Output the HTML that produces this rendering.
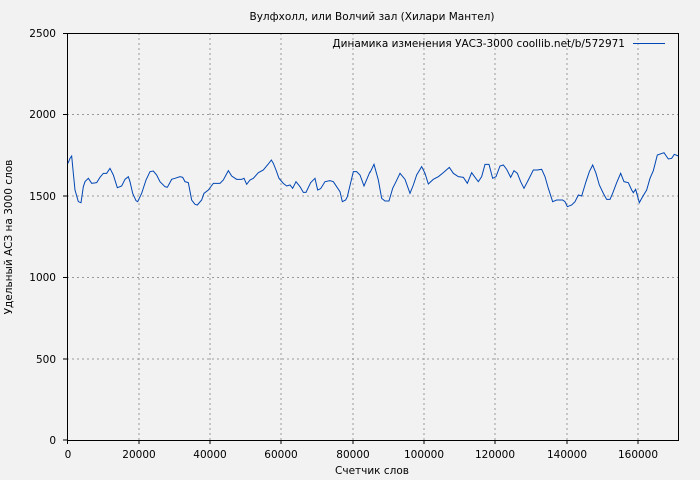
<!DOCTYPE html>
<html><head><meta charset="utf-8"><style>
body{margin:0;background:#f2f2f2;}
svg{display:block;font-family:"DejaVu Sans","Liberation Sans",sans-serif;}
</style></head><body>
<svg width="700" height="480" viewBox="0 0 700 480">
<rect width="700" height="480" fill="#f2f2f2"/>
<text x="372" y="20" font-size="10.5" text-anchor="middle" fill="#000">Вулфхолл, или Волчий зал (Хилари Мантел)</text>
<g stroke="#999" stroke-dasharray="2,3" stroke-width="1">
<line x1="139" y1="33" x2="139" y2="440"/><line x1="210" y1="33" x2="210" y2="440"/>
<line x1="281" y1="33" x2="281" y2="440"/><line x1="353" y1="33" x2="353" y2="440"/>
<line x1="424" y1="33" x2="424" y2="440"/><line x1="495" y1="33" x2="495" y2="440"/>
<line x1="567" y1="33" x2="567" y2="440"/><line x1="638" y1="33" x2="638" y2="440"/>
<line x1="67" y1="114.5" x2="678" y2="114.5"/><line x1="67" y1="196" x2="678" y2="196"/>
<line x1="67" y1="277.5" x2="678" y2="277.5"/><line x1="67" y1="359" x2="678" y2="359"/>
</g>
<rect x="67.5" y="33.5" width="611" height="407" fill="none" stroke="#000" stroke-width="1"/>
<g stroke="#000"><line x1="63" y1="33.5" x2="67" y2="33.5"/><line x1="63" y1="114.5" x2="67" y2="114.5"/><line x1="63" y1="196" x2="67" y2="196"/><line x1="63" y1="277.5" x2="67" y2="277.5"/><line x1="63" y1="359" x2="67" y2="359"/><line x1="63" y1="440" x2="67" y2="440"/>
<line x1="67.5" y1="440" x2="67.5" y2="444"/><line x1="139" y1="440" x2="139" y2="444"/><line x1="210" y1="440" x2="210" y2="444"/><line x1="281" y1="440" x2="281" y2="444"/><line x1="353" y1="440" x2="353" y2="444"/><line x1="424" y1="440" x2="424" y2="444"/><line x1="495" y1="440" x2="495" y2="444"/><line x1="567" y1="440" x2="567" y2="444"/><line x1="638" y1="440" x2="638" y2="444"/></g>
<g font-size="10.5" fill="#000" text-anchor="end">
<text x="56" y="37">2500</text><text x="56" y="118">2000</text><text x="56" y="200">1500</text><text x="56" y="281">1000</text><text x="56" y="363">500</text><text x="56" y="444">0</text></g>
<g font-size="10.5" fill="#000" text-anchor="middle">
<text x="68" y="458">0</text><text x="139" y="458">20000</text><text x="210" y="458">40000</text><text x="281" y="458">60000</text><text x="353" y="458">80000</text><text x="424" y="458">100000</text><text x="495" y="458">120000</text><text x="567" y="458">140000</text><text x="638" y="458">160000</text>
<text x="372" y="474">Счетчик слов</text></g>
<text transform="translate(12,237) rotate(-90)" font-size="10.5" text-anchor="middle">Удельный АСЗ на 3000 слов</text>
<text x="625" y="47" font-size="10.5" text-anchor="end">Динамика изменения УАСЗ-3000 coollib.net/b/572971</text>
<line x1="633" y1="43.5" x2="665" y2="43.5" stroke="#0046b4" stroke-width="1"/>
<g fill="none" stroke="#0046b4" stroke-width="1">
<polyline transform="translate(60,140) scale(0.33333)" vector-effect="non-scaling-stroke" points="24,70 30,55 35,48 40,100 45,150 55,185 63,188 70,140 75,125 85,115 95,130 110,128 120,112 130,100 140,100 150,85 160,105 172,143 185,138 195,118 205,110 210,125 218,160 228,182 233,185 245,160 258,120 270,95 280,93 290,105 300,125 315,140 322,142 335,118 345,115 360,110 368,112 375,125 385,128 395,180 405,193 412,195 425,180 432,160 445,150 460,130 480,130 490,120 505,92 515,108 530,118 545,118 552,115 560,133 570,120 580,115 595,98 610,90 625,72 634,60 640,70 648,90 657,115 670,130 680,138 690,135 698,145 708,125 720,140 730,157 738,157 752,128 765,115 773,150 782,146 795,125 810,122 820,125 830,140 840,155 847,185 857,180 862,170 880,95 890,95 900,105 912,138 930,95"/>
<polyline transform="translate(370,140) scale(0.33333)" vector-effect="non-scaling-stroke" points="0,98 12,73 25,120 35,175 45,183 57,183 68,145 78,125 90,100 105,118 120,160 130,135 140,105 155,80 165,100 175,132 190,118 205,110 220,98 238,82 250,100 265,110 280,112 292,130 305,98 315,112 325,125 335,110 345,73 357,73 368,115 378,110 390,78 400,75 410,88 422,112 432,92 442,100 452,125 462,145 475,120 490,90 502,90 515,88 525,110 535,145 548,185 560,180 578,180 585,185 592,200 605,195 615,185 625,165 635,168 648,125 658,95 668,75 678,100 688,135 700,160 710,178 720,178 728,160 740,128 752,100 762,125 775,128 785,150 790,158 797,148 808,188 818,170 830,150 840,115 850,92 862,45 882,38 895,57 905,55 913,43 925,48"/>
</g>
</svg>
</body></html>
